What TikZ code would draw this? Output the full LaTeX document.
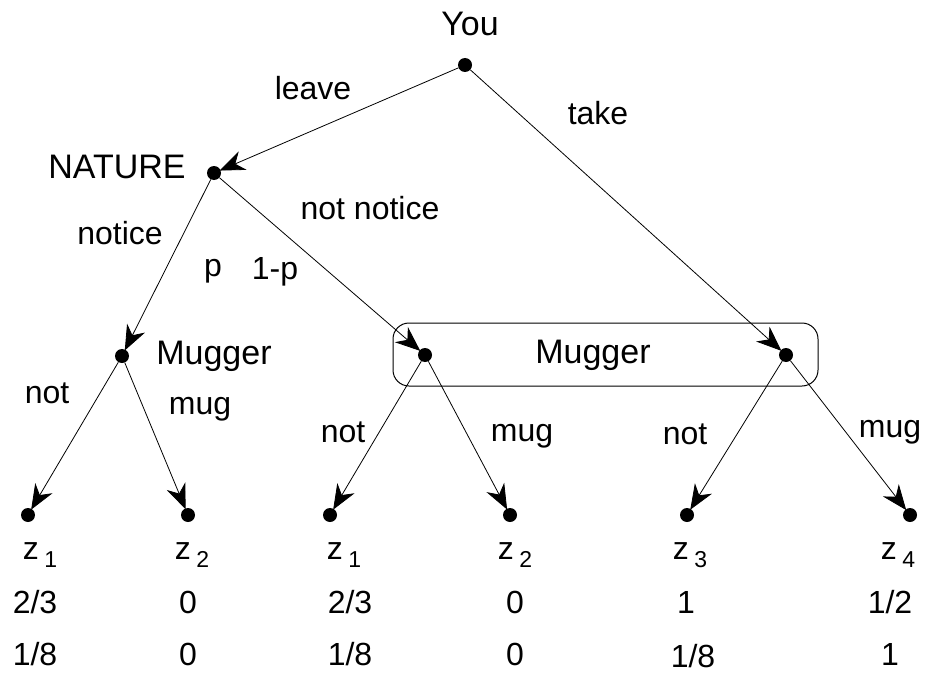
\documentclass[tikz,border=0pt]{standalone}
\usepackage{fontspec}
\setmainfont{Liberation Sans}
\usepackage{tikz}
\usetikzlibrary{arrows.meta,positioning,calc}
\newcommand{\leafsub}[1]{\,\raisebox{-0.45ex}{\fontsize{23}{23}\selectfont #1}}

\begin{document}
\begin{tikzpicture}[
    x=1pt, y=-1pt,
    every node/.style={font=\fontsize{32}{34}\selectfont},
    player/.style={font=\fontsize{34}{36}\selectfont},
    dot/.style={circle, fill=black, inner sep=0pt, minimum size=14pt},
    move/.style={-{Stealth[length=25pt, width=20pt, inset=8pt]}, line width=0.8pt, shorten >=-1pt},
    lbl/.style={inner sep=1pt},
    infoset/.style={draw, line width=1pt, rounded corners=16pt}
]
\useasboundingbox (0,0) rectangle (932,677);

% Decision nodes
\node[dot] (you) at (465,65) {};
\node[dot] (nature) at (214,173) {};
\node[dot] (mugA) at (122,356) {};
\node[dot] (mugB) at (425,355) {};
\node[dot] (mugC) at (786,355) {};

% Terminal nodes
\node[dot] (t1) at (28,515) {};
\node[dot] (t2) at (188,515) {};
\node[dot] (t3) at (330,515) {};
\node[dot] (t4) at (510,515) {};
\node[dot] (t5) at (687,515) {};
\node[dot] (t6) at (910,515) {};

% Player labels
\node[player] (youlabel) at (470,24) {You};
\node[player] (naturelabel) at (117,167) {NATURE};
\node[player] (mugAlabel) at (214,356) {Mugger};
\draw[infoset] (393,323) rectangle (818,386);
\node[player] (mugBlabel) at (593,355) {Mugger};

% Moves
\draw[move] (you) -- (nature);
\draw[move] (you) -- (mugC);
\draw[move] (nature) -- (mugA);
\draw[move] (nature) -- (mugB);
\draw[move] (mugA) -- (t1);
\draw[move] (mugA) -- (t2);
\draw[move] (mugB) -- (t3);
\draw[move] (mugB) -- (t4);
\draw[move] (mugC) -- (t5);
\draw[move] (mugC) -- (t6);

% Move labels
\node[lbl] (leave) at (313,88) {leave};
\node[lbl] (take) at (598,113) {take};
\node[lbl] (notice) at (120,233) {notice};
\node[lbl] (prob) at (213,271) {p};
\node[lbl] (probc) at (275,272) {1-p};
\node[lbl] (notnotice) at (370,208) {not notice};
\node[lbl] (notA) at (47,393) {not};
\node[lbl] (mugAm) at (200,409) {mug};
\node[lbl] (notB) at (343,432) {not};
\node[lbl] (mugBm) at (522,436) {mug};
\node[lbl] (notC) at (685,434) {not};
\node[lbl] (mugCm) at (890,432) {mug};

% Outcomes
\node (z1) at (40,555) {z\leafsub{1}};
\node (z2) at (192,555) {z\leafsub{2}};
\node (z3) at (344,555) {z\leafsub{1}};
\node (z4) at (515,555) {z\leafsub{2}};
\node (z5) at (690,555) {z\leafsub{3}};
\node (z6) at (898,555) {z\leafsub{4}};

% Payoffs
\node (u1) at (35,602) {2/3};
\node (u2) at (188,602) {0};
\node (u3) at (350,602) {2/3};
\node (u4) at (515,602) {0};
\node (u5) at (686,602) {1};
\node (u6) at (890,602) {1/2};
\node (v1) at (35,654) {1/8};
\node (v2) at (188,654) {0};
\node (v3) at (350,654) {1/8};
\node (v4) at (515,654) {0};
\node (v5) at (693,656) {1/8};
\node (v6) at (890,654) {1};

\end{tikzpicture}
\end{document}
